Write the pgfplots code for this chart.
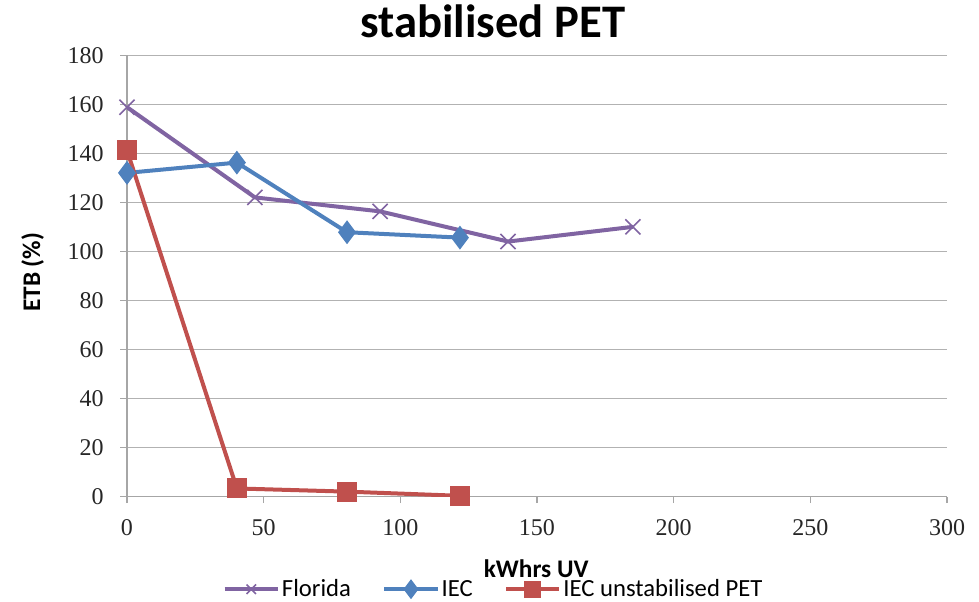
\documentclass[border=0pt]{standalone}
\usepackage{pgfplots}
\pgfplotsset{compat=1.18}
\usepackage{fontspec}
\setmainfont{Carlito}
\newfontfamily\tickfont{Liberation Serif}
\definecolor{cflor}{HTML}{8064A2}
\definecolor{ciec}{HTML}{4F81BD}
\definecolor{cred}{HTML}{C0504D}
\begin{document}
\begin{tikzpicture}
\begin{axis}[
  at={(0,0)}, anchor=south west,
  scale only axis,
  width=615pt, height=331pt,
  xmin=0, xmax=300, ymin=0, ymax=180,
  xtick={0,50,...,300}, ytick={0,20,...,180},
  axis lines*=left,
  axis line style={draw=black!35, line width=0.8pt},
  ymajorgrids, grid style={black!30, line width=0.8pt},
  tick align=outside, major tick length=5pt,
  tick style={black!35, line width=0.8pt},
  /pgf/number format/assume math mode=true,
  tick label style={font=\tickfont\fontsize{18}{20}\selectfont, color=black!85},
  xticklabel style={yshift=-9pt},
  yticklabel style={xshift=-9pt},
  xlabel={\textbf{kWhrs UV}},
  ylabel={\textbf{ETB (\%)}},
  xlabel style={font=\fontsize{19}{21}\selectfont, at={(axis description cs:0.499,-0.163)}, anchor=center},
  ylabel style={font=\fontsize{19}{21}\selectfont, at={(axis description cs:-0.115,0.508)}, anchor=center, rotate=0},
  title={\textbf{stabilised PET}},
  title style={font=\fontsize{35}{40}\selectfont, at={(axis description cs:0.446,1.0227)}, anchor=base},
  legend columns=3,
  legend style={at={(axis description cs:0.447,-0.21)}, anchor=center, draw=none, fill=none,
    font=\fontsize{18.5}{20}\selectfont, inner sep=0pt,
    /tikz/every even column/.append style={column sep=22pt},
    /tikz/every odd column/.append style={column sep=0pt},
    nodes={inner sep=1.5pt}},
  legend image code/.code={\draw[#1, mark repeat=2, mark phase=2, mark size=5pt] plot coordinates {(0pt,0pt) (20pt,0pt) (40pt,0pt)};},
]
\addplot[cflor, line width=3pt, mark=x, mark size=8pt, mark options={line width=1.2pt}]
  coordinates {(0,158.8) (46.8,122) (92.6,116.3) (139.4,104) (185.1,110)};
\addlegendentry{Florida}
\addplot[ciec, line width=3pt, mark=diamond*, mark size=6.5pt, mark options={solid, fill=ciec}]
  coordinates {(0,132) (40.2,136.2) (80.5,107.8) (121.8,105.6)};
\addlegendentry{IEC}
\addplot[cred, line width=3pt, mark=square*, mark size=6pt, mark options={solid, fill=cred}]
  coordinates {(0,141.2) (40.2,3.3) (80.5,2) (121.8,0.3)};
\addlegendentry{IEC unstabilised PET}
\end{axis}
\useasboundingbox (-95.25pt,-78.75pt) rectangle (639pt,372pt);
\end{tikzpicture}
\end{document}
